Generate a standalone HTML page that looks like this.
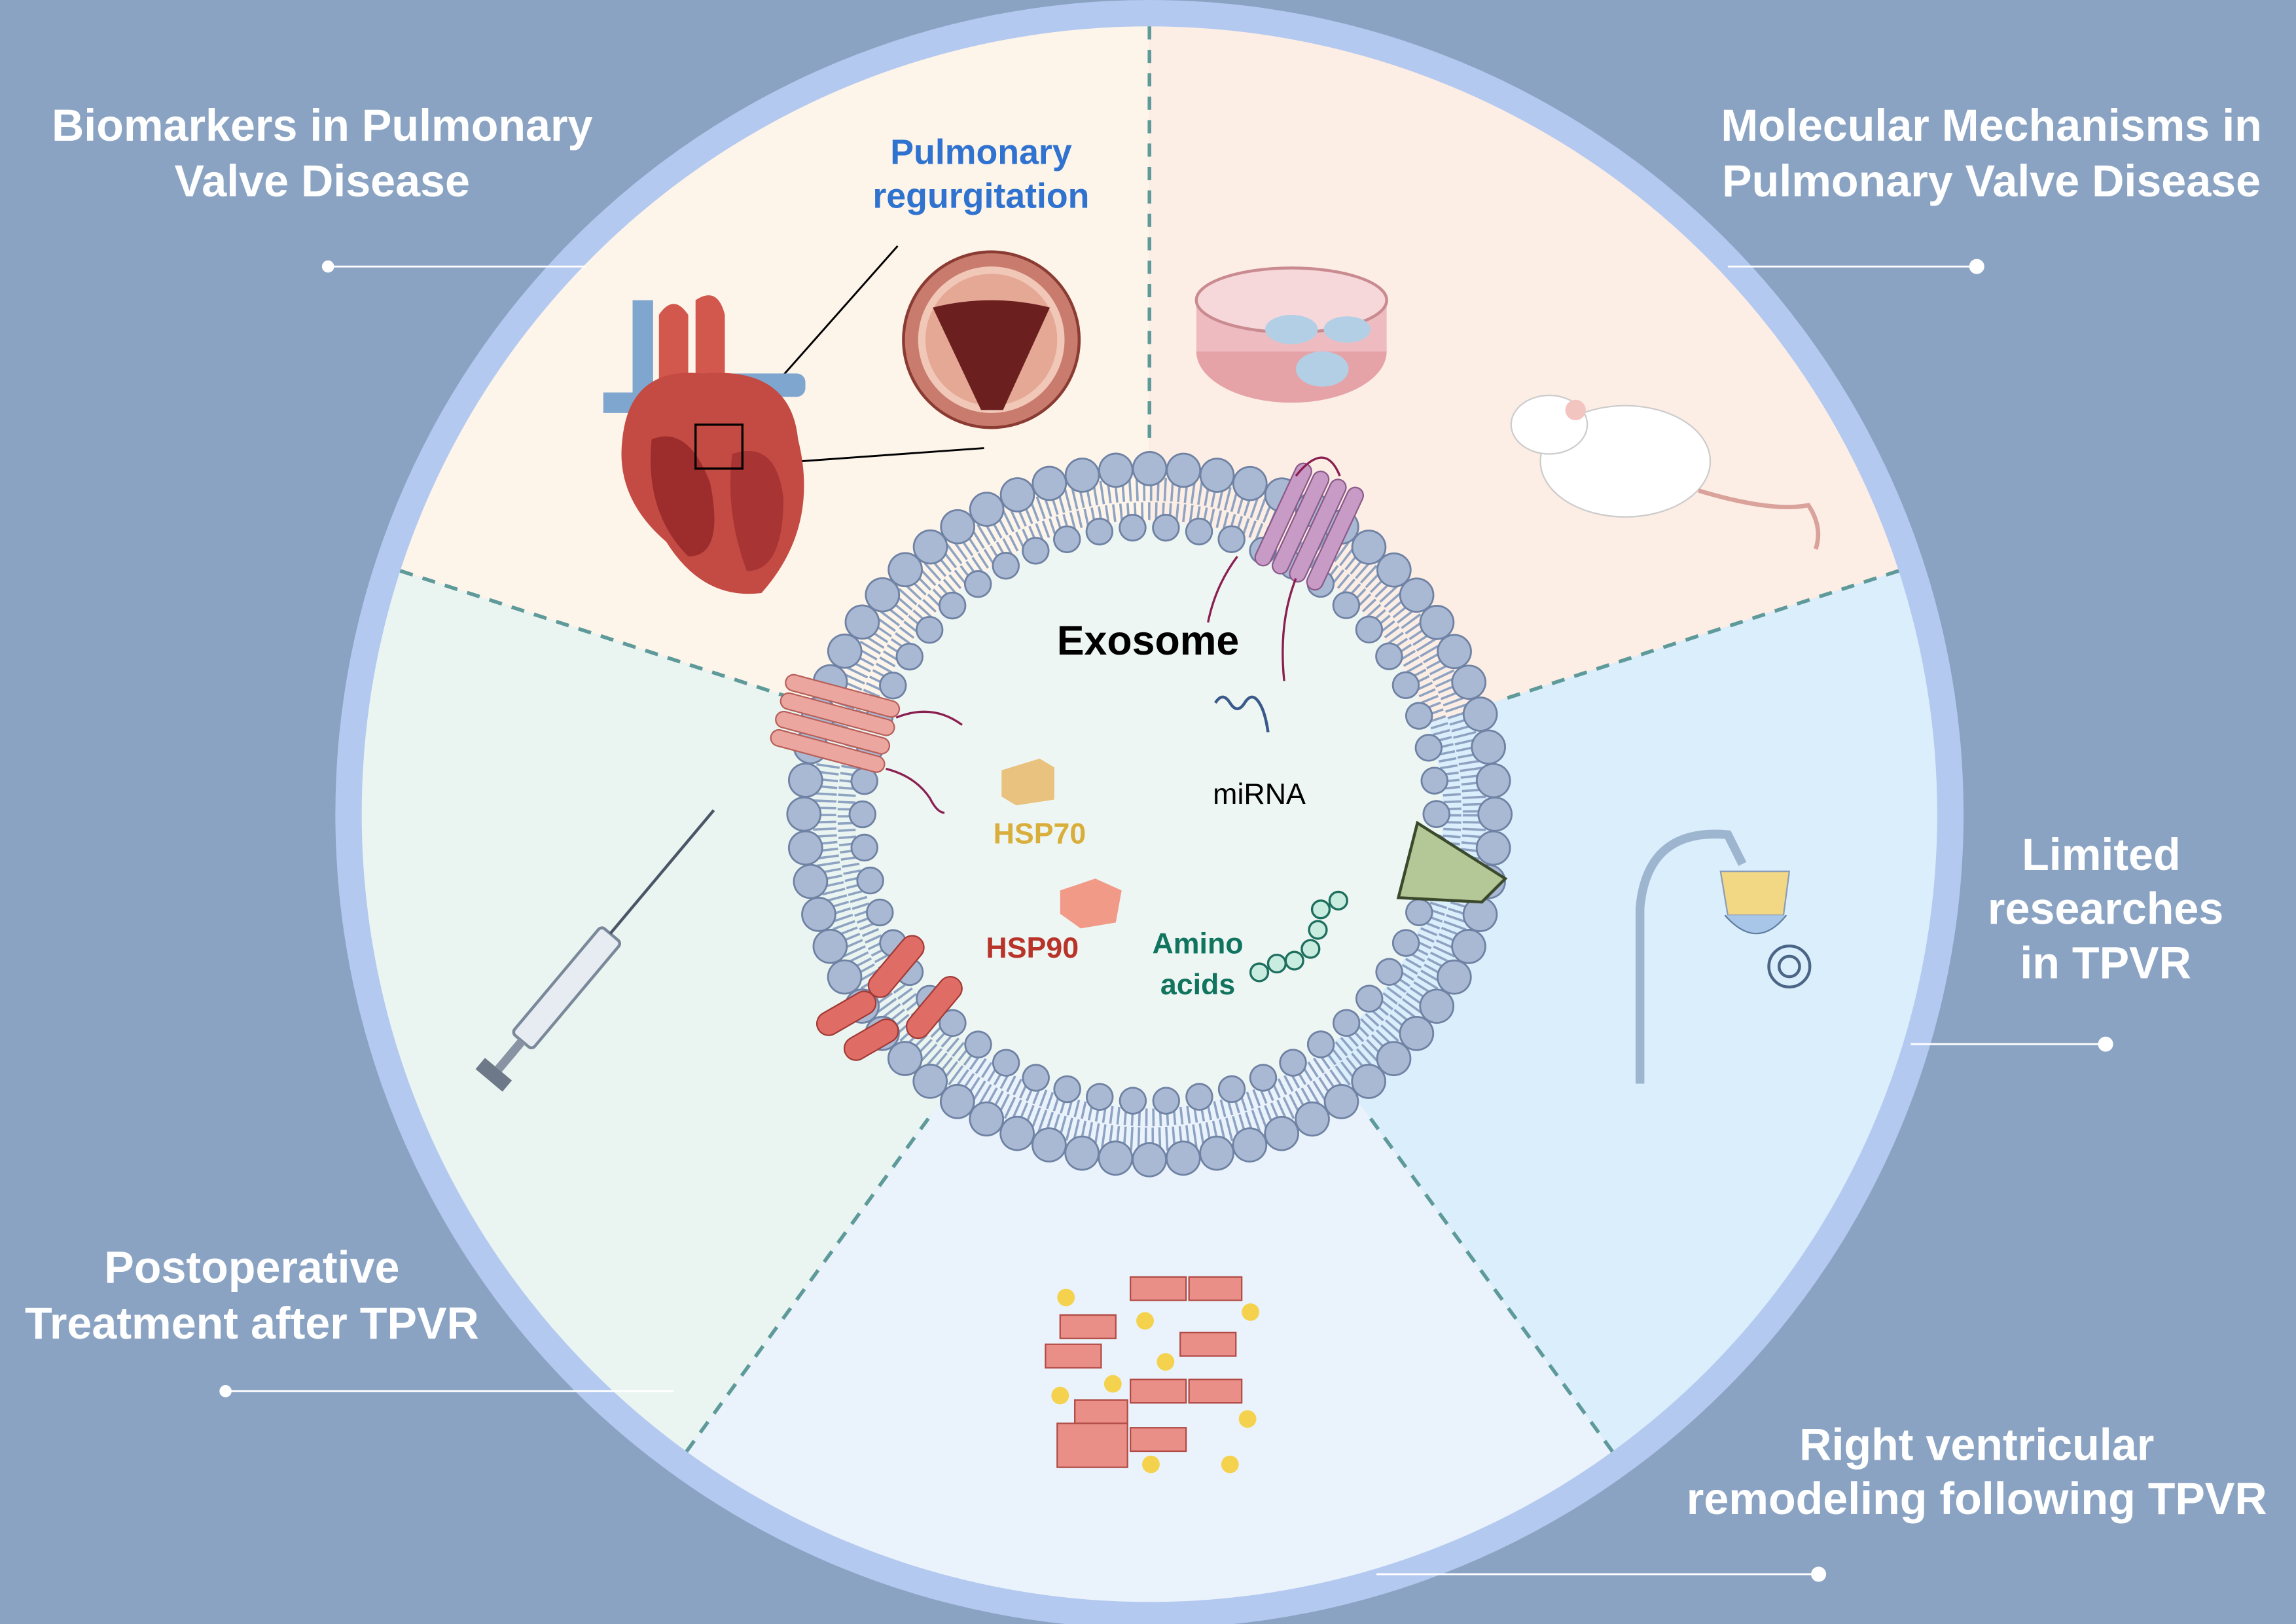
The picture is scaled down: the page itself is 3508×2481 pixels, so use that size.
<!DOCTYPE html>
<html><head><meta charset="utf-8">
<style>
html,body{margin:0;padding:0;background:#8aa3c3;}
svg{display:block;}
text{font-family:"Liberation Sans",Arial,sans-serif;}
</style></head>
<body>
<svg width="3508" height="2481" viewBox="0 0 1568 1109" xmlns="http://www.w3.org/2000/svg">
<rect width="1568" height="1109" fill="#8aa3c3"/>
<circle cx="785" cy="556" r="556" fill="#b4c9f0"/>
<path d="M785,556 L785,18 A538,538 0 0 1 1296.7,389.8 Z" fill="#fdeee5"/>
<path d="M785,556 L1296.7,389.8 A538,538 0 0 1 1101.2,991.2 Z" fill="#dbeefc"/>
<path d="M785,556 L1101.2,991.2 A538,538 0 0 1 468.8,991.2 Z" fill="#eaf3fc"/>
<path d="M785,556 L468.8,991.2 A538,538 0 0 1 273.3,389.8 Z" fill="#eaf5f1"/>
<path d="M785,556 L273.3,389.8 A538,538 0 0 1 785,18 Z" fill="#fdf4ea"/>
<g stroke="#5f9a9a" stroke-width="2.5" stroke-dasharray="9,7" fill="none">
<line x1="785" y1="18" x2="785" y2="306"/>
<line x1="1296.7" y1="389.8" x2="1022.8" y2="478.8"/>
<line x1="1101.2" y1="991.2" x2="932" y2="758.3"/>
<line x1="468.8" y1="991.2" x2="638" y2="758.3"/>
<line x1="273.3" y1="389.8" x2="547.2" y2="478.8"/>
</g>

<circle cx="785" cy="556" r="200" fill="#eef6f4"/>
<circle cx="785" cy="556" r="222" fill="none" stroke="#8ea3c2" stroke-width="16" stroke-dasharray="1.6 3.2"/>
<circle cx="785" cy="556" r="207" fill="none" stroke="#8ea3c2" stroke-width="12" stroke-dasharray="1.6 3.2"/>
<circle cx="785" cy="556" r="236" fill="none" stroke="#6f82a3" stroke-width="24" stroke-linecap="round" stroke-dasharray="0 23.17"/>
<circle cx="785" cy="556" r="236" fill="none" stroke="#a9b9d4" stroke-width="21.5" stroke-linecap="round" stroke-dasharray="0 23.17"/>
<circle cx="785" cy="556" r="196" fill="none" stroke="#6f82a3" stroke-width="19" stroke-linecap="round" stroke-dasharray="0 22.8"/>
<circle cx="785" cy="556" r="196" fill="none" stroke="#a9b9d4" stroke-width="16.5" stroke-linecap="round" stroke-dasharray="0 22.8"/>

<g stroke="#ffffff" stroke-width="1.3" fill="#fff">
<line x1="224" y1="182" x2="400" y2="182"/><circle cx="224" cy="182" r="3.5"/>
<line x1="1180" y1="182" x2="1350" y2="182"/><circle cx="1350" cy="182" r="4.5"/>
<line x1="1305" y1="713" x2="1438" y2="713"/><circle cx="1438" cy="713" r="4.5"/>
<line x1="940" y1="1075" x2="1242" y2="1075"/><circle cx="1242" cy="1075" r="4.5"/>
<line x1="154" y1="950" x2="460" y2="950"/><circle cx="154" cy="950" r="3.5"/>
</g>

<g fill="#ffffff" font-weight="bold" font-size="30.5" text-anchor="middle">
<text x="220" y="96">Biomarkers in Pulmonary</text>
<text x="220" y="134">Valve Disease</text>
<text x="1360" y="96">Molecular Mechanisms in</text>
<text x="1360" y="134">Pulmonary Valve Disease</text>
<text x="1435" y="594">Limited</text>
<text x="1438" y="631">researches</text>
<text x="1438" y="668">in TPVR</text>
<text x="1350" y="997">Right ventricular</text>
<text x="1350" y="1034">remodeling following TPVR</text>
<text x="172" y="876">Postoperative</text>
<text x="172" y="914">Treatment after TPVR</text>
</g>

<text x="670" y="112" fill="#2f72cf" font-weight="bold" font-size="24" text-anchor="middle">Pulmonary</text>
<text x="670" y="142" fill="#2f72cf" font-weight="bold" font-size="24" text-anchor="middle">regurgitation</text>

<circle cx="677" cy="232" r="60" fill="#c97c6e" stroke="#8a3b32" stroke-width="2"/>
<circle cx="677" cy="232" r="50" fill="#f1c7b8"/>
<circle cx="677" cy="232" r="45" fill="#e4a895"/>
<path d="M637,210 Q677,200 717,210 L685,280 L670,280 Z" fill="#6b1f1f"/>
<line x1="613" y1="168" x2="505" y2="290" stroke="#000" stroke-width="1.3"/>
<line x1="672" y1="306" x2="505" y2="318" stroke="#000" stroke-width="1.3"/>

<rect x="432" y="205" width="14" height="90" fill="#7ea6cf"/>
<rect x="412" y="268" width="90" height="14" fill="#7ea6cf"/>
<rect x="480" y="255" width="70" height="16" fill="#7ea6cf" rx="6"/>
<path d="M450,215 Q460,200 470,215 L470,260 L450,260Z" fill="#d2574d"/>
<path d="M475,205 Q490,195 495,215 L495,260 L475,260Z" fill="#d2574d"/>
<path d="M425,300 Q430,250 480,255 Q540,250 545,300 Q560,360 520,405 Q480,410 455,370 Q420,340 425,300Z" fill="#c44b43"/>
<path d="M445,300 Q470,290 485,330 Q495,380 470,380 Q440,350 445,300Z" fill="#9d2d2d"/>
<path d="M500,310 Q530,300 535,340 Q535,390 510,390 Q495,350 500,310Z" fill="#a83434"/>
<rect x="475" y="290" width="32" height="30" fill="none" stroke="#000" stroke-width="1.5"/>

<ellipse cx="882" cy="240" rx="65" ry="35" fill="#e5a3a8"/>
<rect x="817" y="205" width="130" height="35" fill="#eebcc0"/>
<ellipse cx="882" cy="205" rx="65" ry="22" fill="#f6d8da" stroke="#c98a90" stroke-width="2"/>
<ellipse cx="882" cy="225" rx="18" ry="10" fill="#b2cfe6"/><ellipse cx="920" cy="225" rx="16" ry="9" fill="#b2cfe6"/>
<ellipse cx="903" cy="252" rx="18" ry="12" fill="#b2cfe6"/>

<ellipse cx="1110" cy="315" rx="58" ry="38" fill="#ffffff" stroke="#ccc"/>
<ellipse cx="1058" cy="290" rx="26" ry="20" fill="#ffffff" stroke="#ccc"/>
<circle cx="1076" cy="280" r="7" fill="#f2c5c0"/>
<path d="M1160,335 Q1210,350 1235,345 Q1245,360 1240,375" stroke="#d9a39c" stroke-width="3" fill="none"/>

<path d="M1120,740 L1120,620 Q1125,565 1180,570 L1190,590" stroke="#9db5cf" stroke-width="6" fill="none"/>
<path d="M1175,595 L1222,595 L1218,625 L1180,625Z" fill="#f2d784" stroke="#8a9db6"/>
<path d="M1178,625 Q1200,650 1220,625" fill="#a8c6e8" stroke="#5f7ea0"/>
<circle cx="1222" cy="660" r="14" fill="none" stroke="#4a6585" stroke-width="2"/>
<circle cx="1222" cy="660" r="7" fill="none" stroke="#4a6585" stroke-width="2"/>

<g transform="translate(395,665) rotate(-50)">
<rect x="-60" y="-9" width="95" height="18" fill="#e6ecf2" stroke="#7a8899" stroke-width="2" rx="3"/>
<rect x="35" y="-2" width="110" height="2" fill="#4a5566"/>
<rect x="-85" y="-3" width="25" height="6" fill="#8894a3"/>
<rect x="-95" y="-12" width="10" height="24" fill="#6d7888"/>
</g>

<g fill="#e98f88" stroke="#b14a45" stroke-width="1">
<rect x="772" y="872" width="38" height="16"/><rect x="812" y="872" width="36" height="16"/>
<rect x="724" y="898" width="38" height="16"/><rect x="806" y="910" width="38" height="16"/>
<rect x="714" y="918" width="38" height="16"/><rect x="772" y="942" width="38" height="16"/>
<rect x="812" y="942" width="36" height="16"/><rect x="734" y="956" width="36" height="16"/>
<rect x="772" y="975" width="38" height="16"/><rect x="722" y="972" width="48" height="30"/>
</g>
<g fill="#f4d24d">
<circle cx="728" cy="886" r="6"/><circle cx="854" cy="896" r="6"/><circle cx="782" cy="902" r="6"/>
<circle cx="796" cy="930" r="6"/><circle cx="724" cy="953" r="6"/><circle cx="852" cy="969" r="6"/>
<circle cx="786" cy="1000" r="6"/><circle cx="840" cy="1000" r="6"/><circle cx="760" cy="945" r="6"/>
</g>

<text x="784" y="447" font-size="28" font-weight="bold" text-anchor="middle" fill="#000">Exosome</text>
<path d="M830,480 q5,-8 10,0 t10,0 t10,0 q4,6 6,20" stroke="#3a5a8a" stroke-width="2" fill="none"/>
<text x="860" y="549" font-size="20" text-anchor="middle" fill="#000">miRNA</text>
<path d="M684,526 L710,518 L720,524 L720,546 L694,550 L684,544Z" fill="#e8c27e"/>
<text x="710" y="576" font-size="20" font-weight="bold" text-anchor="middle" fill="#d9ae3a">HSP70</text>
<path d="M724,608 L748,600 L766,608 L762,630 L738,634 L724,624Z" fill="#f19a87"/>
<text x="705" y="654" font-size="20" font-weight="bold" text-anchor="middle" fill="#b8342a">HSP90</text>
<text x="818" y="651" font-size="20" font-weight="bold" text-anchor="middle" fill="#10745e">Amino</text>
<text x="818" y="679" font-size="20" font-weight="bold" text-anchor="middle" fill="#10745e">acids</text>
<g fill="#c8ece0" stroke="#1e6f5e" stroke-width="1.5">
<circle cx="860" cy="664" r="6"/><circle cx="872" cy="658" r="6"/><circle cx="884" cy="656" r="6"/>
<circle cx="895" cy="648" r="6"/><circle cx="900" cy="635" r="6"/><circle cx="902" cy="621" r="6"/><circle cx="914" cy="615" r="6"/>
</g>

<g transform="translate(895,360) rotate(-65)" fill="#c89ac6" stroke="#8a5a88" stroke-width="1">
<rect x="-38" y="-26" width="76" height="11" rx="5.5"/><rect x="-38" y="-13" width="76" height="11" rx="5.5"/>
<rect x="-38" y="0" width="76" height="11" rx="5.5"/><rect x="-38" y="13" width="76" height="11" rx="5.5"/>
</g>
<g transform="translate(570,495) rotate(15)" fill="#eca6a0" stroke="#b8605a" stroke-width="1">
<rect x="-40" y="-26" width="80" height="11" rx="5.5"/><rect x="-40" y="-13" width="80" height="11" rx="5.5"/>
<rect x="-40" y="0" width="80" height="11" rx="5.5"/><rect x="-40" y="13" width="80" height="11" rx="5.5"/>
</g>
<path d="M612,490 q25,-10 45,5 M605,525 q20,5 30,20 q5,10 10,10 M885,395 q-12,30 -8,70 M885,325 q20,-25 30,0 M845,380 q-15,20 -20,45" stroke="#8a2050" stroke-width="1.5" fill="none"/>
<g fill="#e06c66" stroke="#a03a35" stroke-width="1">
<rect x="-25" y="-8" width="50" height="16" rx="8" transform="translate(612,660) rotate(-50)"/>
<rect x="-25" y="-8" width="50" height="16" rx="8" transform="translate(638,688) rotate(-50)"/>
<rect x="-22" y="-8" width="44" height="16" rx="8" transform="translate(578,692) rotate(-30)"/>
<rect x="-20" y="-8" width="40" height="16" rx="8" transform="translate(595,710) rotate(-30)"/>
</g>
<path d="M968,562 L1028,600 L1012,616 L955,613Z" fill="#b4c796" stroke="#3b4a2c" stroke-width="2"/>
</svg>
</body></html>
